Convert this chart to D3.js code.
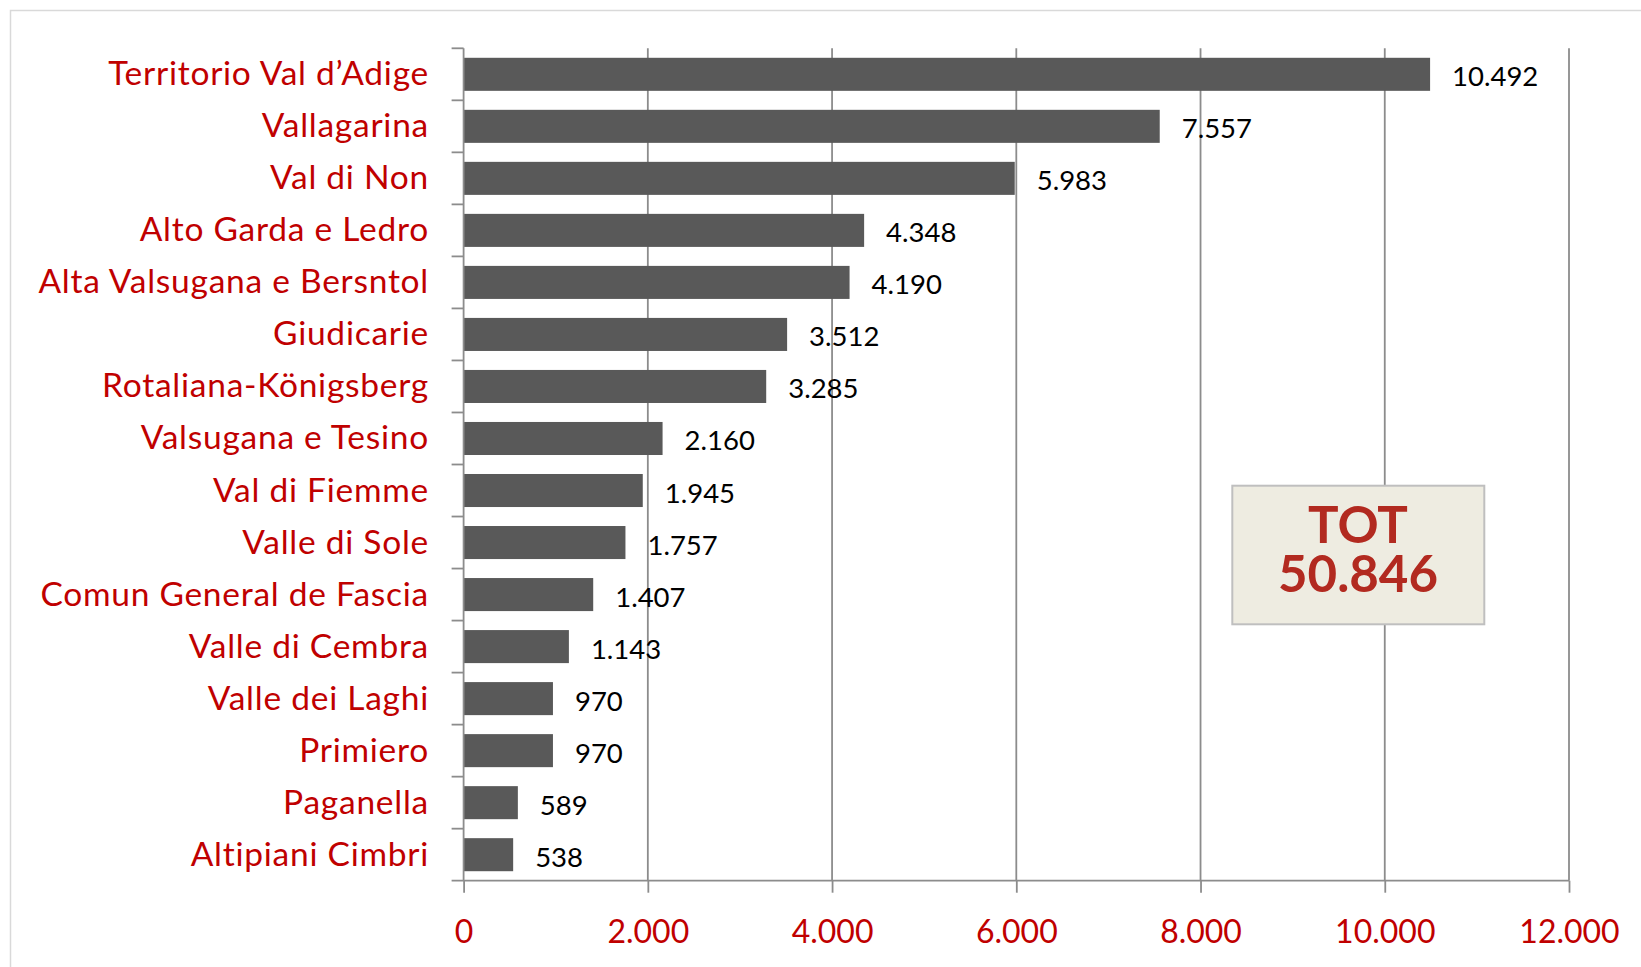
<!DOCTYPE html>
<html>
<head>
<meta charset="utf-8">
<script src="https://cdn.jsdelivr.net/npm/d3@7"></script>
<style>
  html, body { margin: 0; padding: 0; background: #ffffff; }
  svg { display: block; }
  text { font-family: Lato, "Open Sans", sans-serif; }
</style>
</head>
<body>
<svg id="chart" width="1641" height="967"></svg>
<script>
const categories = [
  "Territorio Val d’Adige", "Vallagarina", "Val di Non", "Alto Garda e Ledro",
  "Alta Valsugana e Bersntol", "Giudicarie", "Rotaliana-Königsberg", "Valsugana e Tesino",
  "Val di Fiemme", "Valle di Sole", "Comun General de Fascia", "Valle di Cembra",
  "Valle dei Laghi", "Primiero", "Paganella", "Altipiani Cimbri"
];
const values = [10492, 7557, 5983, 4348, 4190, 3512, 3285, 2160, 1945, 1757, 1407, 1143, 970, 970, 589, 538];
const xTicks = [0, 2000, 4000, 6000, 8000, 10000, 12000];
const totalLabel = ["TOT", "50.846"];

const it = d3.formatLocale({decimal: ",", thousands: ".", grouping: [3], currency: ["€", ""]});
const fmt = it.format(",d");

const svg = d3.select("#chart");
const pLeft = 463.6, pRight = 1569, pTop = 48.3, pBottom = 880.7;

// chart border
svg.append("rect").attr("x", 10.5).attr("y", 10.5).attr("width", 1700).attr("height", 1000)
  .attr("fill", "#fff").attr("stroke", "#D9D9D9").attr("stroke-width", 1.5);

const x = d3.scaleLinear().domain([0, 12000]).range([pLeft, pRight]);
const y = d3.scaleBand().domain(categories).range([pTop, pBottom]).paddingInner(0.365).paddingOuter(0.1825);
const yb = d3.scaleBand().domain(categories).range([pTop, pBottom]);

const gridColor = "#8C8C8C";

// gridlines
svg.append("g").selectAll("line").data(xTicks.slice(1)).join("line")
  .attr("x1", d => x(d)).attr("x2", d => x(d)).attr("y1", pTop).attr("y2", pBottom)
  .attr("stroke", gridColor).attr("stroke-width", 1.8);

// bars
svg.append("g").selectAll("rect").data(values).join("rect")
  .attr("x", x(0)).attr("y", (d, i) => y(categories[i]))
  .attr("width", d => x(d) - x(0)).attr("height", y.bandwidth())
  .attr("fill", "#595959");

// x axis
const xAxis = d3.axisBottom(x).tickValues(xTicks).tickSize(12).tickPadding(28).tickFormat(d => fmt(d));
const gx = svg.append("g").attr("transform", `translate(0,${pBottom})`).call(xAxis);
gx.select(".domain").attr("stroke", gridColor).attr("stroke-width", 1.8).attr("d", `M${pLeft-12},0H${pRight}`);
gx.selectAll(".tick line").attr("stroke", gridColor).attr("stroke-width", 1.8);
gx.selectAll(".tick text").attr("fill", "#C00000").attr("font-size", 32).attr("font-family", "Lato");

// y axis: ticks at category boundaries
const boundaries = categories.map(c => yb(c));
svg.append("line").attr("x1", pLeft).attr("x2", pLeft).attr("y1", pTop).attr("y2", pBottom)
  .attr("stroke", gridColor).attr("stroke-width", 1.8);
svg.append("g").selectAll("line").data(boundaries).join("line")
  .attr("x1", pLeft - 12).attr("x2", pLeft).attr("y1", d => d).attr("y2", d => d)
  .attr("stroke", gridColor).attr("stroke-width", 1.8);

// category labels
svg.append("g").selectAll("text").data(categories).join("text")
  .attr("x", 429).attr("y", d => yb(d) + yb.bandwidth() / 2 + 11)
  .attr("text-anchor", "end").attr("font-size", 33.5).attr("letter-spacing", 0.75).attr("fill", "#C00000")
  .text(d => d);

// value labels
svg.append("g").selectAll("text").data(values).join("text")
  .attr("x", d => x(d) + 22).attr("y", (d, i) => yb(categories[i]) + yb.bandwidth() / 2 + 12)
  .attr("font-size", 27.5).attr("fill", "#000")
  .text(d => fmt(d));

// total box
svg.append("rect").attr("x", 1232.3).attr("y", 485.7).attr("width", 252).attr("height", 138.6)
  .attr("fill", "#EEECE1").attr("stroke", "#BFBFBF").attr("stroke-width", 2);
const tot = svg.append("text").attr("text-anchor", "middle")
  .attr("font-size", 51).attr("font-weight", "bold").attr("fill", "#B22A20");
tot.append("tspan").attr("x", 1358).attr("y", 543.3).text(totalLabel[0]);
tot.append("tspan").attr("x", 1358).attr("y", 591.7).text(totalLabel[1]);
</script>
</body>
</html>
